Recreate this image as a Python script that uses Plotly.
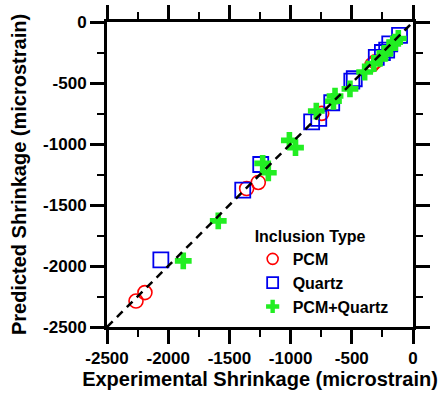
import plotly.graph_objects as go

# Experimental vs predicted drying shrinkage (microstrain) by inclusion type
pcm_exp = [-2263, -2190, -1359, -1264, -746, -335, -310]
pcm_pred = [-2287, -2218, -1365, -1315, -749, -350, -326]

quartz_exp = [-2060, -1391, -1244, -828, -770, -664, -500, -480, -300, -250, -215, -190, -110]
quartz_pred = [-1950, -1378, -1168, -818, -790, -662, -485, -465, -290, -250, -230, -180, -110]

mix_exp = [-1877, -1591, -1228, -1182, -1010, -960, -790, -650, -637, -515, -395,
           -320, -270, -230, -190, -150, -120]
mix_pred = [-1958, -1630, -1159, -1236, -970, -1030, -730, -650, -607, -548, -410,
            -340, -298, -257, -215, -165, -135]

# Line of equality
ref_line = [-2500, 0]

tick_vals = [-2500, -2000, -1500, -1000, -500, 0]
tick_text = ["-2500", "-2000", "-1500", "-1000", "-500", "0"]

FONT = "Liberation Sans, Arial, sans-serif"

series = [
    ("PCM", pcm_exp, pcm_pred,
     dict(symbol="circle-open", size=14, color="#ff0000", line=dict(width=1.6)),
     dict(symbol="circle-open", size=11, color="#ff0000", line=dict(width=1.6))),
    ("Quartz", quartz_exp, quartz_pred,
     dict(symbol="square-open", size=15, color="#0000ee", line=dict(width=1.8)),
     dict(symbol="square-open", size=11, color="#0000ee", line=dict(width=1.8))),
    ("PCM+Quartz", mix_exp, mix_pred,
     dict(symbol="cross", size=14, color="#22ee22", line=dict(width=0)),
     dict(symbol="cross", size=11, color="#22ee22", line=dict(width=0))),
]

fig = go.Figure()

for name, xs, ys, mk, _ in series:
    fig.add_trace(go.Scatter(x=xs, y=ys, mode="markers", name=name,
                             marker=mk, showlegend=False))

fig.add_trace(go.Scatter(
    x=ref_line, y=ref_line, mode="lines", showlegend=False, hoverinfo="skip",
    line=dict(color="black", width=2.5, dash="8px,6px"),
))

# Legend keys drawn with smaller symbols than the data markers
for name, _, _, _, mk_leg in series:
    fig.add_trace(go.Scatter(x=[None], y=[None], mode="markers", name=name,
                             marker=mk_leg, showlegend=True))

axis_common = dict(
    range=[-2500, 0],
    tickvals=tick_vals, ticktext=tick_text,
    showgrid=False, zeroline=False,
    showline=True, linecolor="black", linewidth=3,
    mirror="allticks",
    ticks="outside", ticklen=14, tickwidth=3, tickcolor="black",
    minor=dict(dtick=250, ticks="outside", ticklen=7, tickwidth=2, tickcolor="black"),
    tickfont=dict(family=FONT, size=17, color="black", weight="bold"),
    automargin=False,
)

fig.update_xaxes(
    **axis_common,
    title=dict(text="<b>Experimental Shrinkage (microstrain)</b>",
               font=dict(family=FONT, size=20, color="black"), standoff=5),
)
fig.update_yaxes(
    **axis_common,
    title=dict(text="<b>Predicted Shrinkage (microstrain)</b>",
               font=dict(family=FONT, size=20, color="black"), standoff=12),
)

fig.update_layout(
    width=441, height=395,
    margin=dict(l=107, r=28, t=22, b=68),
    paper_bgcolor="white", plot_bgcolor="white",
    showlegend=True,
    legend=dict(
        x=0.476, y=0.347, xanchor="left", yanchor="top",
        bgcolor="rgba(0,0,0,0)",
        title=dict(text="<b>Inclusion Type</b>", font=dict(family=FONT, size=16, color="black")),
        font=dict(family=FONT, size=16, color="black", weight="bold"),
        itemwidth=30,
        tracegroupgap=0,
    ),
)

fig.write_html("out.html")
